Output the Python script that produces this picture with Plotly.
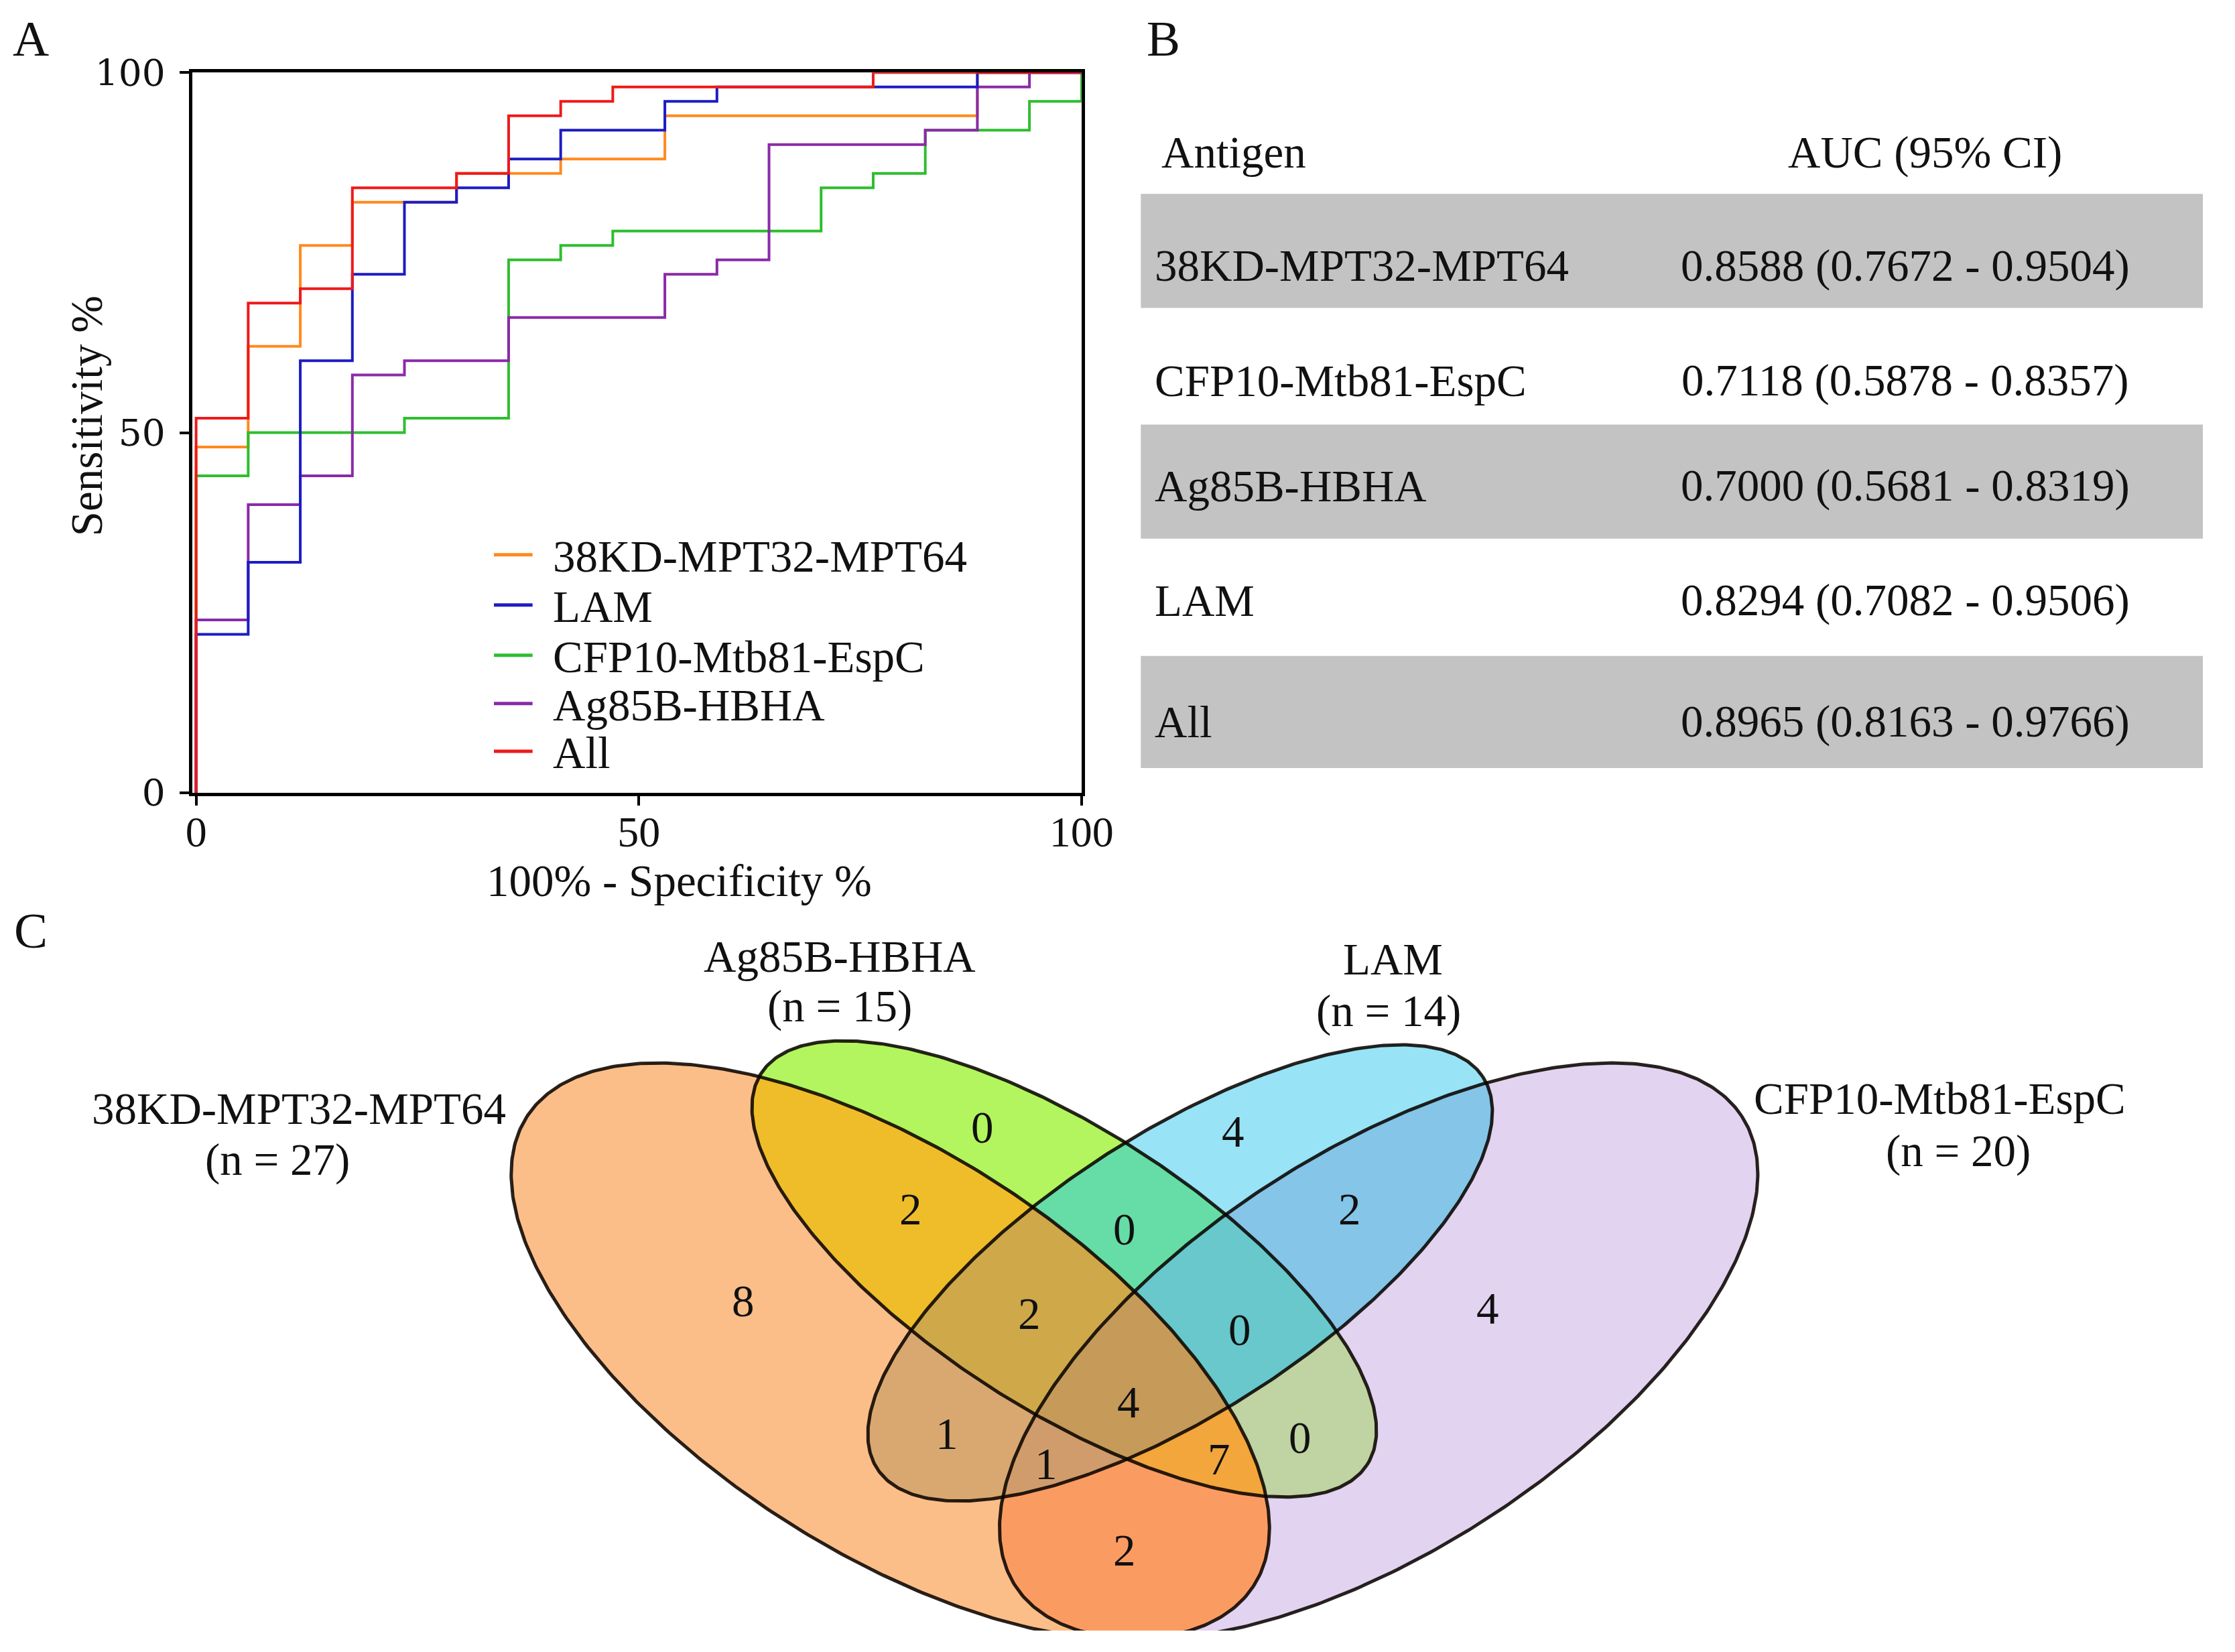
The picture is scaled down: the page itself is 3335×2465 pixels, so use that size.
import numpy as np
import plotly.graph_objects as go

W, H = 3335, 2465
FONT = "Liberation Serif"

# ---------------- Panel A data (ROC) ----------------
# x: number of false positives out of 17 controls, y: sensitivity %
N_CTRL = 17
fp_38kd = [0, 0, 1, 2, 3, 5, 7, 9, 15, 17]
se_38kd = [0, 48, 62, 76, 82, 86, 88, 94, 100, 100]
fp_lam = [0, 0, 1, 2, 3, 4, 5, 6, 7, 9, 10, 15, 17]
se_lam = [0, 22, 32, 60, 72, 82, 84, 88, 92, 96, 98, 100, 100]
fp_cfp = [0, 0, 1, 4, 6, 7, 8, 12, 13, 14, 16, 17]
se_cfp = [0, 44, 50, 52, 74, 76, 78, 84, 86, 92, 96, 100]
fp_ag85 = [0, 0, 1, 2, 3, 4, 6, 9, 10, 11, 14, 15, 16, 17]
se_ag85 = [0, 24, 40, 44, 58, 60, 66, 72, 74, 90, 92, 98, 100, 100]
fp_all = [0, 0, 1, 2, 3, 5, 6, 7, 8, 13, 17]
se_all = [0, 52, 68, 70, 84, 86, 94, 96, 98, 100, 100]

legend_names = ["38KD-MPT32-MPT64", "LAM", "CFP10-Mtb81-EspC", "Ag85B-HBHA", "All"]
axis_ticks = [0, 50, 100]

# ---------------- Panel B data (table) ----------------
table_antigens = ["38KD-MPT32-MPT64", "CFP10-Mtb81-EspC", "Ag85B-HBHA", "LAM", "All"]
table_auc = ["0.8588 (0.7672 - 0.9504)", "0.7118 (0.5878 - 0.8357)",
             "0.7000 (0.5681 - 0.8319)", "0.8294 (0.7082 - 0.9506)",
             "0.8965 (0.8163 - 0.9766)"]

# ---------------- Panel C data (Venn) ----------------
venn_sets = ["38KD-MPT32-MPT64", "Ag85B-HBHA", "LAM", "CFP10-Mtb81-EspC"]
venn_set_n = [27, 15, 14, 20]
# region membership codes: bit1=38KD, bit2=Ag85B, bit4=LAM, bit8=CFP10
venn_region_codes = [1, 2, 4, 8, 3, 5, 9, 6, 10, 12, 7, 11, 13, 14, 15]
venn_region_counts = [8, 0, 4, 4, 2, 1, 2, 0, 0, 2, 2, 7, 1, 0, 4]

# ---------------- layout geometry ----------------
# positions below are measured on the reference; PX/PY map them onto the page
SX, OX = 1.0117, -10.8
SY, OY = 1.0273, -30.6
SYV, OYV = 1.0167, -14.6   # slightly tighter vertical map for the Venn drawing


def PX(x):
    return SX * np.asarray(x, dtype=float) + OX


def PY(y):
    return SY * np.asarray(y, dtype=float) + OY


def PYV(y):
    return SYV * np.asarray(y, dtype=float) + OYV


c_orange, c_blue, c_green, c_purple, c_red = "#FF8A1E", "#1C1CC4", "#2EBE2E", "#8A2AA8", "#EE1A1A"
legend_colors = [c_orange, c_blue, c_green, c_purple, c_red]
TXT = 67

px0, px1 = float(PX(289)), float(PX(1624))
py0, py1 = float(PY(106)), float(PY(1180))

fig = go.Figure()

roc_draw = [(fp_38kd, se_38kd, c_orange), (fp_cfp, se_cfp, c_green),
            (fp_ag85, se_ag85, c_purple), (fp_lam, se_lam, c_blue),
            (fp_all, se_all, c_red)]
for fp, se, col in roc_draw:
    fig.add_trace(go.Scatter(
        x=np.array(fp) / N_CTRL * 100, y=se, mode="lines",
        line=dict(color=col, width=4, shape="hv"),
        showlegend=False, hoverinfo="skip", xaxis="x", yaxis="y"))

# ---------------- Venn regions as a discrete image ----------------
ell_center = [(1337, 2018), (1598, 1894), (1772, 1900), (2070, 2018)]
ell_axes = [(650, 300), (542, 210), (542, 210), (650, 300)]
ell_angle = [33, 33, -33, -33]

region_color = {
    1: "#FCBE88", 2: "#B2F55E", 3: "#F0BD2A", 4: "#98E3F6", 5: "#D9A870",
    6: "#66DDA6", 7: "#CFA84A", 8: "#E2D3F0", 9: "#FA9C62", 10: "#C0D3A2",
    11: "#F2A63C", 12: "#84C5E8", 13: "#D19C6B", 14: "#68C8CB", 15: "#C69A58"}

gx = np.arange(730, 2700, 2.0)
gy = np.arange(1500, 2466, 2.0)
GX, GY = np.meshgrid(gx, gy)
RX, RY = (GX - OX) / SX, (GY - OYV) / SYV
code = np.zeros(GX.shape, dtype=int)
for i, ((cx, cy), (a, b), ang) in enumerate(zip(ell_center, ell_axes, ell_angle)):
    t = np.deg2rad(ang)
    dx, dy = RX - cx, RY - cy
    u = dx * np.cos(t) + dy * np.sin(t)
    v = -dx * np.sin(t) + dy * np.cos(t)
    inside = (u / a) ** 2 + (v / b) ** 2 <= 1.0
    code += inside.astype(int) << i
z = code.astype(np.float32)
z[code == 0] = np.nan
cs = []
for k in range(1, 16):
    cs.append([(k - 1) / 15, region_color[k]])
    cs.append([k / 15, region_color[k]])
fig.add_trace(go.Heatmap(x=gx, y=gy, z=z, zmin=0.5, zmax=15.5, colorscale=cs,
                         showscale=False, hoverinfo="skip", zsmooth=False,
                         xaxis="x2", yaxis="y2"))

tt = np.linspace(0, 2 * np.pi, 500)
for (cx, cy), (a, b), ang in zip(ell_center, ell_axes, ell_angle):
    t = np.deg2rad(ang)
    ex = cx + a * np.cos(tt) * np.cos(t) - b * np.sin(tt) * np.sin(t)
    ey = cy + a * np.cos(tt) * np.sin(t) + b * np.sin(tt) * np.cos(t)
    fig.add_trace(go.Scatter(x=PX(ex), y=PYV(ey), mode="lines",
                             line=dict(color="rgba(10,5,0,0.88)", width=5),
                             showlegend=False, hoverinfo="skip",
                             xaxis="x2", yaxis="y2"))

annotations = []
shapes = []


def txt(x, y, s, size, xanchor="center", angle=0, color="#111", family=FONT, venn=False):
    yy = PYV(y) if venn else PY(y)
    annotations.append(dict(x=float(PX(x)), y=float(yy), xref="x2", yref="y2", text=s,
                            showarrow=False, xanchor=xanchor, yanchor="middle",
                            textangle=angle, font=dict(family=family, size=size, color=color)))


# panel letters
txt(47, 55, "A", 75)
txt(1747, 55, "B", 75)
txt(47, 1385, "C", 75)

# axis titles
txt(130, 618, "Sensitivity %", TXT, angle=-90)
txt(1020, 1311, "100% - Specificity %", TXT)

# manual legend
leg_y = [825, 900, 975, 1047, 1118]
for name, col, ly in zip(legend_names, legend_colors, leg_y):
    shapes.append(dict(type="line", xref="x2", yref="y2", x0=float(PX(742)), x1=float(PX(800)),
                       y0=float(PY(ly)), y1=float(PY(ly)),
                       line=dict(color=col, width=5), layer="above"))
    txt(828, ly + 2, name, TXT, xanchor="left")

# table
row_y = [394, 565, 722, 893, 1074]
gray_rows = [(287, 457), (631, 801), (976, 1143)]
for y0, y1 in gray_rows:
    shapes.append(dict(type="rect", xref="x2", yref="y2", x0=float(PX(1713)), x1=float(PX(3324)),
                       y0=float(PY(y0)), y1=float(PY(y1)),
                       fillcolor="#C3C3C3", line=dict(width=0), layer="below"))
txt(1742, 225, "Antigen", TXT, xanchor="left")
txt(2890, 225, "AUC (95% CI)", TXT)
for ant, auc, ry in zip(table_antigens, table_auc, row_y):
    txt(1732, ry, ant, TXT, xanchor="left")
    txt(2860, ry, auc, TXT)

# Venn set labels
set_label_pos = [(449, 1651, 417, 1727), (1261, 1424, 1261, 1498),
                 (2091, 1428, 2085, 1505), (2912, 1636, 2940, 1714)]
for name, n, (x1, y1, x2, y2) in zip(venn_sets, venn_set_n, set_label_pos):
    txt(x1, y1, name, TXT)
    txt(x2, y2, "(n = %d)" % n, TXT)

# Venn counts
region_pos = {1: (1116, 1942), 2: (1475, 1681), 4: (1852, 1687), 8: (2234, 1953),
              3: (1368, 1804), 5: (1422, 2142), 9: (1689, 2318), 6: (1689, 1834),
              10: (1952, 2148), 12: (2027, 1804), 7: (1546, 1961), 11: (1830, 2180),
              13: (1571, 2187), 14: (1862, 1985), 15: (1695, 2095)}
for rc, cnt in zip(venn_region_codes, venn_region_counts):
    x, y = region_pos[rc]
    txt(x, y, str(cnt), TXT, venn=True)

axis_common = dict(showline=True, linecolor="black", linewidth=5, mirror=True,
                   ticks="outside", ticklen=14, tickwidth=4, tickcolor="black",
                   showgrid=False, zeroline=False, tickvals=axis_ticks, fixedrange=True)

fig.update_layout(
    width=W, height=H, margin=dict(l=0, r=0, t=0, b=0),
    paper_bgcolor="white", plot_bgcolor="rgba(0,0,0,0)",
    xaxis=dict(domain=[px0 / W, px1 / W], range=[-0.45, 100], anchor="y",
               ticklabelstandoff=-16,
               tickfont=dict(family=FONT, size=64, color="#111"), **axis_common),
    yaxis=dict(domain=[1 - py1 / H, 1 - py0 / H], range=[0, 100], anchor="x",
               ticklabelstandoff=10,
               tickfont=dict(family="DejaVu Serif", size=55, color="#111"), **axis_common),
    xaxis2=dict(domain=[0, 1], range=[0, W], visible=False, anchor="y2", fixedrange=True),
    yaxis2=dict(domain=[0, 1], range=[H, 0], visible=False, anchor="x2", fixedrange=True),
    annotations=annotations, shapes=shapes, showlegend=False,
)

fig.write_html("out.html", config={"displayModeBar": False},
               post_script="document.body.style.margin='0';document.body.style.padding='0';"
                           "document.documentElement.style.overflow='hidden';")
